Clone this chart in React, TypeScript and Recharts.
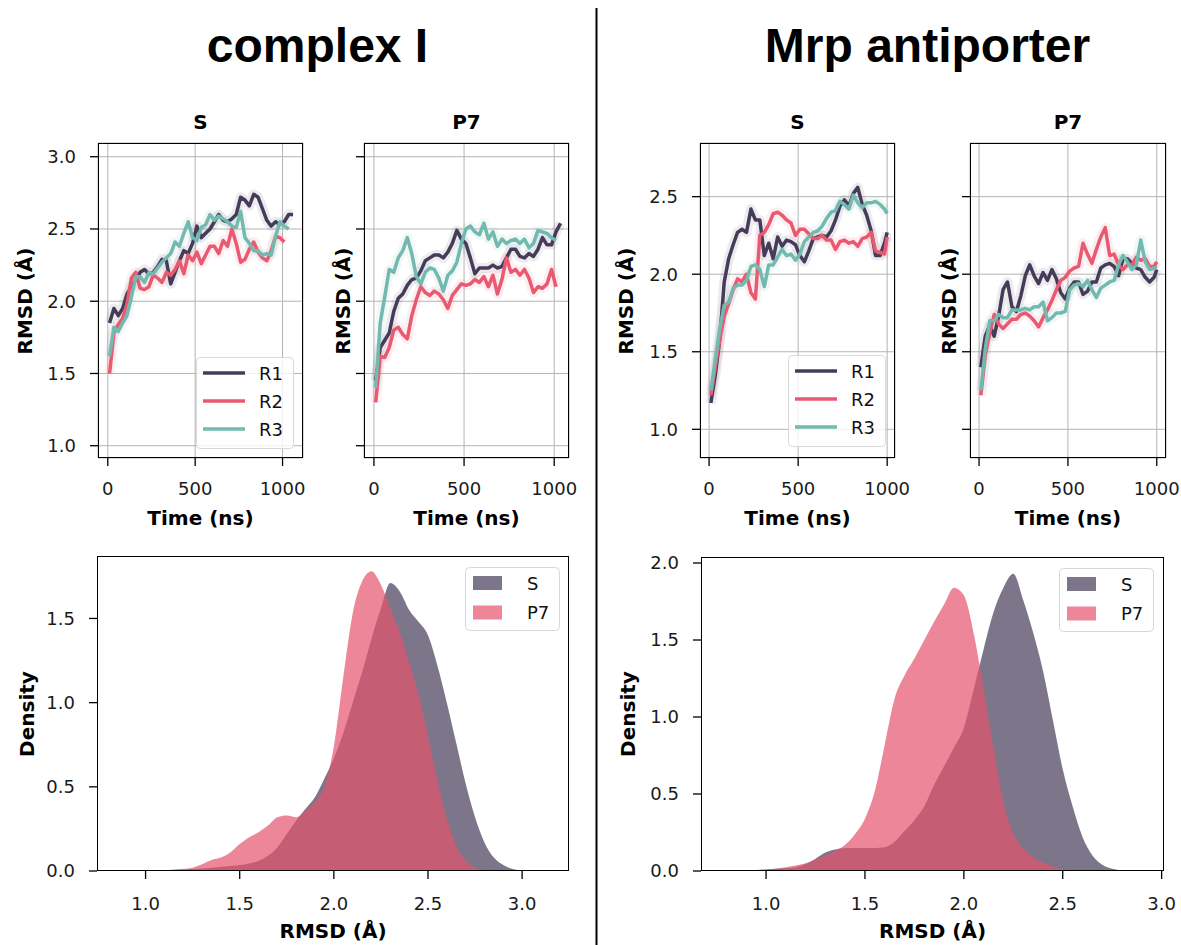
import React from 'react';
import { LineChart, Line, AreaChart, Area, XAxis, YAxis, CartesianGrid, Legend } from 'recharts';

// ---- RMSD time series (smoothed) ----
// complex I
const TIME_CI = [10, 35, 60, 85, 110, 135, 160, 185, 210, 235, 260, 285, 310, 335, 360, 385, 410, 435, 460, 485, 510, 535, 560, 585, 610, 635, 660, 685, 710, 735, 760, 785, 810, 835, 860, 885, 910, 935, 960, 985, 1010, 1035, 1060];

const CI_S_R1 = [1.85, 1.95, 1.90, 1.95, 2.05, 2.10, 2.15, 2.20, 2.22, 2.19, 2.20, 2.24, 2.29, 2.28, 2.12, 2.20, 2.28, 2.35, 2.33, 2.40, 2.52, 2.44, 2.47, 2.50, 2.55, 2.60, 2.56, 2.55, 2.57, 2.60, 2.72, 2.70, 2.66, 2.74, 2.72, 2.64, 2.56, 2.52, 2.55, 2.53, 2.55, 2.60, 2.60];
const CI_S_R2 = [1.50, 1.78, 1.84, 1.88, 1.98, 2.16, 2.20, 2.09, 2.08, 2.10, 2.18, 2.16, 2.13, 2.20, 2.18, 2.22, 2.28, 2.19, 2.32, 2.28, 2.34, 2.26, 2.32, 2.38, 2.38, 2.33, 2.42, 2.38, 2.50, 2.40, 2.27, 2.29, 2.36, 2.41, 2.34, 2.30, 2.28, 2.35, 2.45, 2.44, 2.41, null, null];
const CI_S_R3 = [1.62, 1.82, 1.79, 1.85, 1.90, 2.03, 2.17, 2.17, 2.13, 2.20, 2.19, 2.23, 2.27, 2.30, 2.33, 2.41, 2.38, 2.47, 2.55, 2.44, 2.42, 2.51, 2.53, 2.60, 2.56, 2.59, 2.57, 2.55, 2.52, 2.51, 2.62, 2.44, 2.40, 2.35, 2.35, 2.32, 2.33, 2.32, 2.45, 2.55, 2.52, 2.50, null];

const CI_P7_R1 = [1.45, 1.68, 1.73, 1.78, 1.93, 2.02, 2.05, 2.11, 2.15, 2.16, 2.21, 2.28, 2.30, 2.32, 2.32, 2.30, 2.34, 2.40, 2.49, 2.43, 2.40, 2.30, 2.19, 2.23, 2.23, 2.23, 2.25, 2.23, 2.24, 2.30, 2.36, 2.36, 2.31, 2.30, 2.33, 2.31, 2.36, 2.44, 2.39, 2.39, 2.48, 2.54, null];
const CI_P7_R2 = [1.30, 1.62, 1.61, 1.68, 1.80, 1.82, 1.77, 1.74, 1.90, 2.01, 2.10, 2.06, 2.04, 2.07, 2.05, 2.01, 1.95, 2.04, 2.08, 2.12, 2.11, 2.12, 2.15, 2.13, 2.17, 2.10, 2.18, 2.05, 2.15, 2.30, 2.20, 2.22, 2.18, 2.22, 2.16, 2.06, 2.10, 2.09, 2.12, 2.22, 2.10, null, null];
const CI_P7_R3 = [1.40, 1.85, 2.03, 2.22, 2.20, 2.30, 2.35, 2.44, 2.33, 2.17, 2.12, 2.20, 2.23, 2.22, 2.16, 2.07, 2.18, 2.21, 2.27, 2.40, 2.50, 2.52, 2.48, 2.46, 2.54, 2.43, 2.48, 2.38, 2.43, 2.40, 2.42, 2.43, 2.40, 2.43, 2.37, 2.40, 2.49, 2.48, 2.47, 2.44, 2.42, null, null];

// Mrp antiporter
const TIME_MRP = [10, 35, 60, 85, 110, 135, 160, 185, 210, 235, 260, 285, 310, 335, 360, 385, 410, 435, 460, 485, 510, 535, 560, 585, 610, 635, 660, 685, 710, 735, 760, 785, 810, 835, 860, 885, 910, 935, 960, 985, 1000];

const MRP_S_R1 = [1.17, 1.35, 1.58, 1.95, 2.10, 2.19, 2.27, 2.29, 2.27, 2.42, 2.35, 2.35, 2.12, 2.20, 2.10, 2.24, 2.18, 2.22, 2.21, 2.19, 2.12, 2.08, 2.15, 2.23, 2.24, 2.25, 2.24, 2.28, 2.35, 2.44, 2.48, 2.44, 2.52, 2.56, 2.45, 2.38, 2.28, 2.12, 2.12, 2.20, 2.27];
const MRP_S_R2 = [1.22, 1.40, 1.58, 1.73, 1.81, 1.90, 1.97, 1.95, 2.00, 1.88, 1.84, 2.25, 2.27, 2.32, 2.39, 2.40, 2.38, 2.35, 2.33, 2.25, 2.29, 2.29, 2.26, 2.23, 2.23, 2.25, 2.22, 2.22, 2.16, 2.21, 2.22, 2.20, 2.21, 2.18, 2.23, 2.24, 2.27, 2.15, 2.14, 2.13, 2.24];
const MRP_S_R3 = [1.25, 1.45, 1.65, 1.80, 1.82, 1.91, 1.93, 1.93, 1.96, 2.05, 2.06, 2.03, 1.92, 2.06, 2.06, 2.11, 2.16, 2.12, 2.13, 2.09, 2.13, 2.21, 2.24, 2.27, 2.28, 2.31, 2.36, 2.40, 2.41, 2.47, 2.45, 2.42, 2.51, 2.46, 2.43, 2.46, 2.46, 2.47, 2.45, 2.42, 2.39];

const MRP_P7_R1 = [1.40, 1.60, 1.67, 1.60, 1.73, 1.90, 1.95, 1.79, 1.76, 1.86, 1.99, 2.06, 1.99, 1.94, 2.01, 1.96, 2.03, 1.97, 1.88, 1.84, 1.91, 1.95, 1.95, 1.87, 1.89, 1.95, 1.95, 2.04, 2.06, 2.07, 2.05, 1.99, 2.10, 2.10, 2.07, 2.04, 2.03, 1.98, 1.95, 1.98, 2.03];
const MRP_P7_R2 = [1.22, 1.48, 1.62, 1.74, 1.68, 1.65, 1.68, 1.71, 1.71, 1.74, 1.75, 1.73, 1.70, 1.66, 1.72, 1.77, 1.83, 1.90, 1.96, 1.98, 2.02, 2.04, 2.05, 2.20, 2.13, 2.07, 2.16, 2.24, 2.30, 2.12, 2.13, 2.06, 2.03, 2.06, 2.06, 2.11, 2.09, 2.10, 2.05, 2.05, 2.08];
const MRP_P7_R3 = [1.25, 1.52, 1.70, 1.70, 1.74, 1.72, 1.72, 1.77, 1.77, 1.77, 1.78, 1.77, 1.79, 1.79, 1.82, 1.70, 1.72, 1.75, 1.75, 1.76, 1.90, 1.93, 1.94, 1.92, 1.96, 1.90, 1.85, 1.91, 1.93, 1.95, 1.96, 2.06, 2.12, 2.08, 2.03, 2.06, 2.22, 2.08, 2.03, 2.04, 2.04];

// ---- RMSD density (KDE) ----
const CI_RMSD = [0.90, 0.95, 1.00, 1.05, 1.10, 1.15, 1.20, 1.25, 1.30, 1.35, 1.40, 1.45, 1.50, 1.55, 1.60, 1.65, 1.70, 1.75, 1.80, 1.85, 1.90, 1.95, 2.00, 2.05, 2.10, 2.15, 2.20, 2.25, 2.30, 2.35, 2.40, 2.45, 2.50, 2.55, 2.60, 2.65, 2.70, 2.75, 2.80, 2.85, 2.90, 2.95, 3.00, 3.05];
const CI_DENS_S = [0, 0, 0.002, 0.003, 0.005, 0.007, 0.01, 0.012, 0.015, 0.02, 0.025, 0.03, 0.035, 0.045, 0.06, 0.09, 0.14, 0.22, 0.30, 0.37, 0.44, 0.55, 0.67, 0.82, 1.00, 1.18, 1.38, 1.56, 1.71, 1.66, 1.55, 1.48, 1.40, 1.22, 1.00, 0.76, 0.52, 0.32, 0.17, 0.08, 0.035, 0.012, 0.003, 0];
const CI_DENS_P7 = [0, 0, 0.002, 0.003, 0.005, 0.008, 0.012, 0.02, 0.04, 0.065, 0.08, 0.11, 0.16, 0.20, 0.23, 0.27, 0.32, 0.33, 0.32, 0.36, 0.41, 0.50, 0.74, 1.15, 1.53, 1.72, 1.78, 1.70, 1.56, 1.42, 1.24, 1.05, 0.80, 0.54, 0.31, 0.15, 0.06, 0.02, 0.005, 0, 0, 0, 0, 0];

const MRP_RMSD = [0.85, 0.90, 0.95, 1.00, 1.05, 1.10, 1.15, 1.20, 1.25, 1.30, 1.35, 1.40, 1.45, 1.50, 1.55, 1.60, 1.65, 1.70, 1.75, 1.80, 1.85, 1.90, 1.95, 2.00, 2.05, 2.10, 2.15, 2.20, 2.25, 2.30, 2.35, 2.40, 2.45, 2.50, 2.55, 2.60, 2.65, 2.70, 2.75, 2.80, 2.85];
const MRP_DENS_S = [0, 0.003, 0.006, 0.01, 0.014, 0.018, 0.025, 0.045, 0.08, 0.12, 0.14, 0.15, 0.15, 0.15, 0.15, 0.155, 0.19, 0.26, 0.33, 0.42, 0.56, 0.68, 0.80, 0.93, 1.18, 1.44, 1.68, 1.84, 1.93, 1.76, 1.55, 1.30, 0.98, 0.66, 0.42, 0.22, 0.10, 0.04, 0.015, 0.004, 0];
const MRP_DENS_P7 = [0, 0.002, 0.005, 0.01, 0.015, 0.025, 0.035, 0.05, 0.075, 0.10, 0.13, 0.17, 0.24, 0.34, 0.52, 0.82, 1.12, 1.27, 1.38, 1.50, 1.62, 1.73, 1.84, 1.79, 1.54, 1.18, 0.80, 0.45, 0.24, 0.15, 0.09, 0.055, 0.03, 0.012, 0.004, 0, 0, 0, 0, 0, 0];

const TIME_TICKS = [0, 500, 1000];
const CI_RMSD_TICKS = [1.0, 1.5, 2.0, 2.5, 3.0];
const MRP_RMSD_TICKS = [1.0, 1.5, 2.0, 2.5];
const DENS_X_TICKS = [1.0, 1.5, 2.0, 2.5, 3.0];
const CI_DENS_TICKS = [0, 0.5, 1.0, 1.5];
const MRP_DENS_TICKS = [0, 0.5, 1.0, 1.5, 2.0];

const LINE_COLORS: Record<string, string> = { R1: '#463c5a', R2: '#e95a71', R3: '#72bab0' };
const AREA_COLORS: Record<string, string> = { S: '#463c5a', P7: '#e4536c' };
const FONT = "'DejaVu Sans', Verdana, sans-serif";
const TICK = { fill: '#1a1a1a', fontSize: 18, fontFamily: FONT };

type Box = { x: number; y: number; w: number; h: number };

function LineLegendBox() {
  const names = ['R1', 'R2', 'R3'];
  return (
    <svg width={98} height={92} style={{ display: 'block' }}>
      <rect x={0.5} y={0.5} width={97} height={91} rx={4} fill="#fff" fillOpacity={0.8} stroke="#d8d8d8" />
      {names.map((n, i) => (
        <g key={n}>
          <line x1={7} x2={49} y1={16 + i * 28} y2={16 + i * 28} stroke={LINE_COLORS[n]} strokeWidth={3.5} />
          <text x={63} y={22.5 + i * 28} fontSize={18} fontFamily={FONT} fill="#111">{n}</text>
        </g>
      ))}
    </svg>
  );
}

function AreaLegendBox() {
  const names = ['S', 'P7'];
  return (
    <svg width={95} height={64} style={{ display: 'block' }}>
      <rect x={0.5} y={0.5} width={94} height={63} rx={4} fill="#fff" fillOpacity={0.8} stroke="#d8d8d8" />
      {names.map((n, i) => (
        <g key={n}>
          <rect x={8} y={9 + i * 29.5} width={29} height={14} fill={AREA_COLORS[n]} fillOpacity={0.7} />
          <text x={62} y={22.5 + i * 29.5} fontSize={18} fontFamily={FONT} fill="#111">{n}</text>
        </g>
      ))}
    </svg>
  );
}

function Frame({ left, top, w, h }: { left: number; top: number; w: number; h: number }) {
  return (
    <div
      style={{
        position: 'absolute', left, top, width: w, height: h,
        border: '1.5px solid #000', boxSizing: 'border-box', pointerEvents: 'none',
      }}
    />
  );
}

function RmsdPanel({
  box, xDomain, yDomain, yTicks, yLabels, time, r1, r2, r3, legendAt,
}: {
  box: Box; xDomain: number[]; yDomain: number[]; yTicks: number[]; yLabels: boolean;
  time: number[]; r1: (number | null)[]; r2: (number | null)[]; r3: (number | null)[];
  legendAt?: { x: number; y: number };
}) {
  const L = 90, T = 10, R = 14, B = 60;
  const data = time.map((t, i) => ({ t, R1: r1[i], R2: r2[i], R3: r3[i] }));
  const left = box.x - L;
  const top = box.y - T;
  const keys = ['R1', 'R2', 'R3'];
  return (
    <div style={{ position: 'absolute', left, top }}>
      <LineChart width={box.w + L + R} height={box.h + T + B} data={data} margin={{ top: T, right: R, bottom: 0, left: 0 }}>
        <CartesianGrid stroke="#b4b4b4" strokeWidth={1} />
        <XAxis
          dataKey="t" type="number" domain={xDomain} ticks={TIME_TICKS} interval={0} allowDataOverflow
          height={B} axisLine={false} tickSize={8} tickMargin={16} tickLine={{ stroke: '#000', strokeWidth: 1.3 }} tick={TICK}
        />
        <YAxis
          type="number" domain={yDomain} ticks={yTicks} interval={0} allowDataOverflow width={L}
          axisLine={false} tickSize={8} tickMargin={14} tickLine={{ stroke: '#000', strokeWidth: 1.3 }} tick={TICK}
          tickFormatter={(v: number) => (yLabels ? v.toFixed(1) : '')}
        />
        {/* soft halo standing in for the faint raw trajectories */}
        {keys.map((k) => (
          <Line
            key={`halo-${k}`} type="linear" dataKey={k} legendType="none" stroke={LINE_COLORS[k]} strokeWidth={10}
            strokeOpacity={0.1} dot={false} activeDot={false} isAnimationActive={false} strokeLinejoin="round"
          />
        ))}
        {keys.map((k) => (
          <Line
            key={k} type="linear" dataKey={k} name={k} stroke={LINE_COLORS[k]} strokeWidth={3.5}
            dot={false} activeDot={false} isAnimationActive={false} strokeLinejoin="round"
          />
        ))}
        {legendAt && (
          <Legend
            layout="vertical" align="center" verticalAlign="middle"
            wrapperStyle={{ left: legendAt.x - left, top: legendAt.y - top, width: 98, height: 92 }}
            content={() => <LineLegendBox />}
          />
        )}
      </LineChart>
      <Frame left={L} top={T} w={box.w} h={box.h} />
    </div>
  );
}

function DensityPanel({
  box, xDomain, yDomain, yTicks, xs, s, p7, legendAt,
}: {
  box: Box; xDomain: number[]; yDomain: number[]; yTicks: number[];
  xs: number[]; s: number[]; p7: number[]; legendAt: { x: number; y: number };
}) {
  const L = 90, T = 10, R = 14, B = 60;
  const data = xs.map((x, i) => ({ x, S: s[i], P7: p7[i] }));
  const left = box.x - L;
  const top = box.y - T;
  return (
    <div style={{ position: 'absolute', left, top }}>
      <AreaChart width={box.w + L + R} height={box.h + T + B} data={data} margin={{ top: T, right: R, bottom: 0, left: 0 }}>
        <XAxis
          dataKey="x" type="number" domain={xDomain} ticks={DENS_X_TICKS} interval={0} allowDataOverflow
          height={B} axisLine={false} tickSize={8} tickMargin={18} tickLine={{ stroke: '#000', strokeWidth: 1.3 }} tick={TICK}
          tickFormatter={(v: number) => v.toFixed(1)}
        />
        <YAxis
          type="number" domain={yDomain} ticks={yTicks} interval={0} allowDataOverflow width={L}
          axisLine={false} tickSize={8} tickMargin={14} tickLine={{ stroke: '#000', strokeWidth: 1.3 }} tick={TICK}
          tickFormatter={(v: number) => v.toFixed(1)}
        />
        {['S', 'P7'].map((k) => (
          <Area
            key={k} type="monotone" dataKey={k} name={k} stroke="none" fill={AREA_COLORS[k]} fillOpacity={0.7}
            dot={false} activeDot={false} isAnimationActive={false}
          />
        ))}
        <Legend
          layout="vertical" align="center" verticalAlign="middle"
          wrapperStyle={{ left: legendAt.x - left, top: legendAt.y - top, width: 95, height: 64 }}
          content={() => <AreaLegendBox />}
        />
      </AreaChart>
      <Frame left={L} top={T} w={box.w} h={box.h} />
    </div>
  );
}

const P1: Box = { x: 98, y: 143, w: 205, h: 315 };
const P2: Box = { x: 364, y: 143, w: 205, h: 315 };
const P3: Box = { x: 700, y: 143, w: 195, h: 315 };
const P4: Box = { x: 970, y: 143, w: 196, h: 315 };
const D1: Box = { x: 97, y: 556, w: 472, h: 315 };
const D2: Box = { x: 701, y: 557, w: 463, h: 314 };

function YLabel({ x, y, text }: { x: number; y: number; text: string }) {
  return (
    <text x={x} y={y} transform={`rotate(-90 ${x} ${y})`} textAnchor="middle" fontSize={20} fontWeight="bold" fontFamily={FONT} fill="#000">
      {text}
    </text>
  );
}

function XLabel({ x, y, text }: { x: number; y: number; text: string }) {
  return (
    <text x={x} y={y} textAnchor="middle" fontSize={20} fontWeight="bold" fontFamily={FONT} fill="#000">
      {text}
    </text>
  );
}

export default function App() {
  return (
    <div style={{ position: 'absolute', left: 0, top: 0, width: 1181, height: 945, background: '#fff', overflow: 'hidden' }}>
      <RmsdPanel box={P1} xDomain={[-56, 1117]} yDomain={[0.915, 3.095]} yTicks={CI_RMSD_TICKS} yLabels
        time={TIME_CI} r1={CI_S_R1} r2={CI_S_R2} r3={CI_S_R3} legendAt={{ x: 196, y: 357 }} />
      <RmsdPanel box={P2} xDomain={[-55, 1082]} yDomain={[0.915, 3.095]} yTicks={CI_RMSD_TICKS} yLabels={false}
        time={TIME_CI} r1={CI_P7_R1} r2={CI_P7_R2} r3={CI_P7_R3} />
      <RmsdPanel box={P3} xDomain={[-51, 1044]} yDomain={[0.815, 2.846]} yTicks={MRP_RMSD_TICKS} yLabels
        time={TIME_MRP} r1={MRP_S_R1} r2={MRP_S_R2} r3={MRP_S_R3} legendAt={{ x: 788, y: 355 }} />
      <RmsdPanel box={P4} xDomain={[-51, 1052]} yDomain={[0.815, 2.846]} yTicks={MRP_RMSD_TICKS} yLabels={false}
        time={TIME_MRP} r1={MRP_P7_R1} r2={MRP_P7_R2} r3={MRP_P7_R3} />

      <DensityPanel box={D1} xDomain={[0.742, 3.249]} yDomain={[0, 1.871]} yTicks={CI_DENS_TICKS}
        xs={CI_RMSD} s={CI_DENS_S} p7={CI_DENS_P7} legendAt={{ x: 465, y: 567 }} />
      <DensityPanel box={D2} xDomain={[0.671, 3.012]} yDomain={[0, 2.039]} yTicks={MRP_DENS_TICKS}
        xs={MRP_RMSD} s={MRP_DENS_S} p7={MRP_DENS_P7} legendAt={{ x: 1059, y: 568 }} />

      <svg width={1181} height={945} style={{ position: 'absolute', left: 0, top: 0, pointerEvents: 'none' }}>
        <line x1={596.5} x2={596.5} y1={8} y2={945} stroke="#000" strokeWidth={2} />
        <text x={317.5} y={62} textAnchor="middle" fontSize={48} fontWeight="bold" fontFamily="'Liberation Sans', Arial, sans-serif">complex I</text>
        <text x={927.5} y={62} textAnchor="middle" fontSize={48} fontWeight="bold" fontFamily="'Liberation Sans', Arial, sans-serif">Mrp antiporter</text>

        <XLabel x={P1.x + P1.w / 2} y={129} text="S" />
        <XLabel x={P2.x + P2.w / 2} y={129} text="P7" />
        <XLabel x={P3.x + P3.w / 2} y={129} text="S" />
        <XLabel x={P4.x + P4.w / 2} y={129} text="P7" />

        <XLabel x={P1.x + P1.w / 2} y={525} text="Time (ns)" />
        <XLabel x={P2.x + P2.w / 2} y={525} text="Time (ns)" />
        <XLabel x={P3.x + P3.w / 2} y={525} text="Time (ns)" />
        <XLabel x={P4.x + P4.w / 2} y={525} text="Time (ns)" />

        <YLabel x={32} y={301} text="RMSD (Å)" />
        <YLabel x={350} y={301} text="RMSD (Å)" />
        <YLabel x={633} y={301} text="RMSD (Å)" />
        <YLabel x={956} y={301} text="RMSD (Å)" />

        <YLabel x={34} y={714} text="Density" />
        <YLabel x={635} y={714} text="Density" />
        <XLabel x={D1.x + D1.w / 2} y={938} text="RMSD (Å)" />
        <XLabel x={D2.x + D2.w / 2} y={938} text="RMSD (Å)" />
      </svg>
    </div>
  );
}
